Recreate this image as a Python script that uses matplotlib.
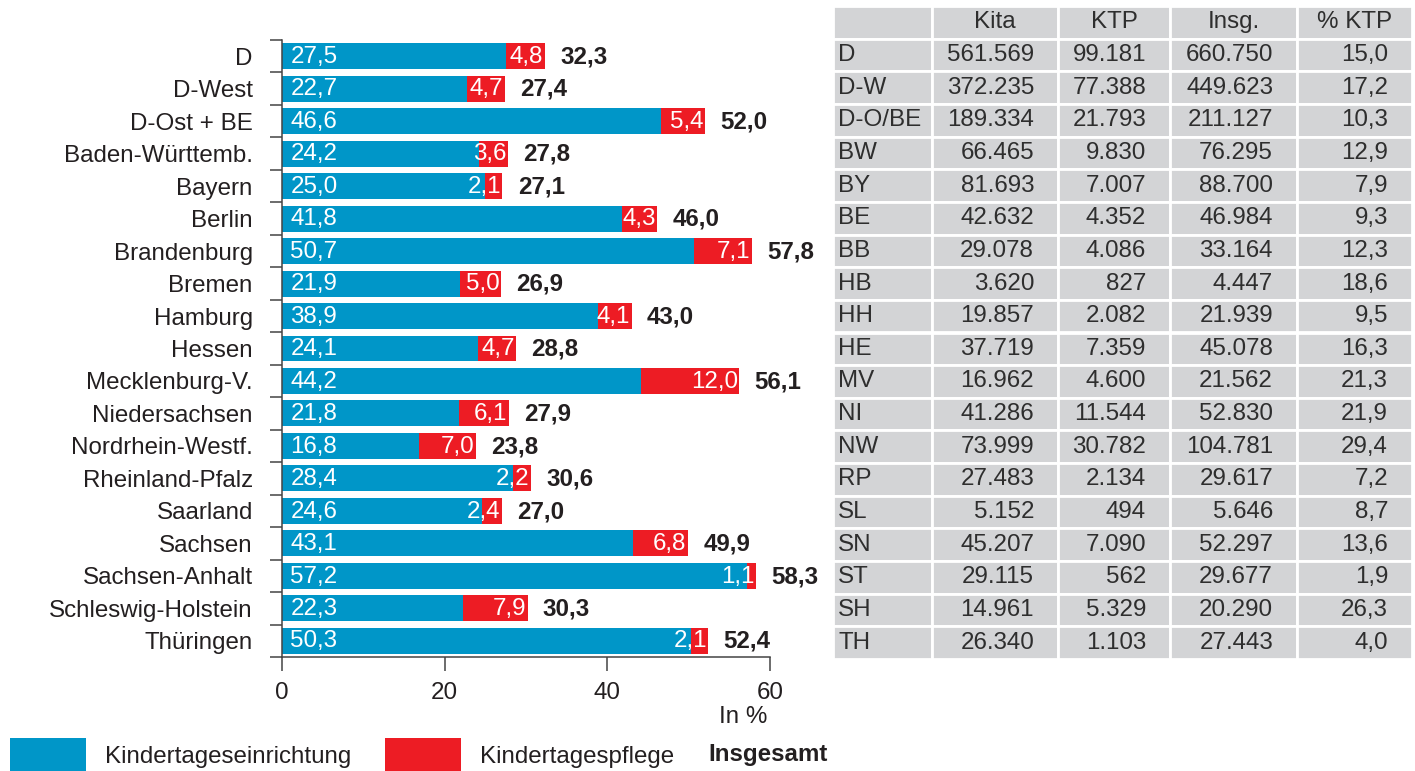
import numpy as np
import matplotlib
matplotlib.use('Agg')
import matplotlib.pyplot as plt
from matplotlib.patches import Rectangle

plt.rcParams['font.family'] = ['Liberation Sans', 'DejaVu Sans']

# Daten: Anteil der Kinder unter 3 Jahren in Kindertagesbetreuung (in %)
laender = ['D', 'D-West', 'D-Ost + BE', 'Baden-Württemb.', 'Bayern', 'Berlin',
           'Brandenburg', 'Bremen', 'Hamburg', 'Hessen', 'Mecklenburg-V.',
           'Niedersachsen', 'Nordrhein-Westf.', 'Rheinland-Pfalz', 'Saarland',
           'Sachsen', 'Sachsen-Anhalt', 'Schleswig-Holstein', 'Thüringen']
kita_pct = [27.5, 22.7, 46.6, 24.2, 25.0, 41.8, 50.7, 21.9, 38.9, 24.1, 44.2,
            21.8, 16.8, 28.4, 24.6, 43.1, 57.2, 22.3, 50.3]
ktp_pct = [4.8, 4.7, 5.4, 3.6, 2.1, 4.3, 7.1, 5.0, 4.1, 4.7, 12.0,
           6.1, 7.0, 2.2, 2.4, 6.8, 1.1, 7.9, 2.1]
insg_pct = [32.3, 27.4, 52.0, 27.8, 27.1, 46.0, 57.8, 26.9, 43.0, 28.8, 56.1,
            27.9, 23.8, 30.6, 27.0, 49.9, 58.3, 30.3, 52.4]

# Tabelle: absolute Zahlen
kuerzel = ['D', 'D-W', 'D-O/BE', 'BW', 'BY', 'BE', 'BB', 'HB', 'HH', 'HE', 'MV',
           'NI', 'NW', 'RP', 'SL', 'SN', 'ST', 'SH', 'TH']
kita_n = [561569, 372235, 189334, 66465, 81693, 42632, 29078, 3620, 19857, 37719,
          16962, 41286, 73999, 27483, 5152, 45207, 29115, 14961, 26340]
ktp_n = [99181, 77388, 21793, 9830, 7007, 4352, 4086, 827, 2082, 7359,
         4600, 11544, 30782, 2134, 494, 7090, 562, 5329, 1103]
insg_n = [660750, 449623, 211127, 76295, 88700, 46984, 33164, 4447, 21939, 45078,
          21562, 52830, 104781, 29617, 5646, 52297, 29677, 20290, 27443]
ktp_anteil = [15.0, 17.2, 10.3, 12.9, 7.9, 9.3, 12.3, 18.6, 9.5, 16.3,
              21.3, 21.9, 29.4, 7.2, 8.7, 13.6, 1.9, 26.3, 4.0]
kopf = ['', 'Kita', 'KTP', 'Insg.', '% KTP']

BLUE = '#0096c8'
RED = '#ed1c24'
TXT = '#231f20'
TAB_TXT = '#2e2e2e'
GRAU = '#d3d4d6'
FS = 17.4

W, H = 1415, 771
fig = plt.figure(figsize=(W / 100, H / 100), dpi=100)


def de_int(v):
    return f'{v:,}'.replace(',', '.')


def de_dec(v):
    return f'{v:.1f}'.replace('.', ',')


# --- Balkendiagramm ---
ax = fig.add_axes([282 / W, 1 - 657 / H, (770 - 282) / W, (657 - 40) / H])
n = len(laender)
y = np.arange(n)
ax.barh(y, kita_pct, height=0.8, color=BLUE)
ax.barh(y, ktp_pct, left=kita_pct, height=0.8, color=RED)
ax.set_xlim(0, 60)
ax.set_ylim(n - 0.5, -0.5)

for i in range(n):
    ax.annotate(de_dec(kita_pct[i]), (0, i), xytext=(6, -0.5), textcoords='offset points',
                ha='left', va='center', color='white', fontsize=FS)
    ax.annotate(de_dec(ktp_pct[i]), (kita_pct[i] + ktp_pct[i], i), xytext=(-1, -0.5),
                textcoords='offset points', ha='right', va='center', color='white', fontsize=FS)
    ax.annotate(de_dec(insg_pct[i]), (kita_pct[i] + ktp_pct[i], i), xytext=(11, -0.5),
                textcoords='offset points', ha='left', va='center', color=TXT,
                fontsize=FS, fontweight='bold')

for s in ['top', 'right']:
    ax.spines[s].set_visible(False)
for s in ['left', 'bottom']:
    ax.spines[s].set_color('#444444')
    ax.spines[s].set_linewidth(1.1)

ax.set_yticks(y)
ax.set_yticklabels(laender)
ax.set_yticks(np.arange(-0.5, n), minor=True)
ax.tick_params(axis='y', which='major', length=0, pad=21, labelsize=FS, labelcolor=TXT)
ax.tick_params(axis='y', which='minor', length=8.6, width=1.1, color='#444444')
ax.set_xticks([0, 20, 40, 60])
ax.tick_params(axis='x', length=10, width=1.1, color='#444444', pad=8,
               labelsize=FS, labelcolor=TXT)
fig.text(767 / W, 1 - 717 / H, 'In %', ha='right', va='center', fontsize=FS, color=TXT)

# --- Tabelle ---
tax = fig.add_axes([833 / W, 1 - 659 / H, (1412 - 833) / W, (659 - 6) / H])
kanten = [833, 932, 1058, 1170, 1297, 1412]
tax.set_xlim(kanten[0], kanten[-1])
tax.set_ylim(n + 1, 0)
tax.axis('off')

for r in range(n + 1):
    for c in range(5):
        tax.add_patch(Rectangle((kanten[c], r), kanten[c + 1] - kanten[c], 1,
                                facecolor=GRAU, edgecolor='white', linewidth=2))

for c in range(5):
    tax.text((kanten[c] + kanten[c + 1]) / 2, 0.5, kopf[c], ha='center', va='center',
             fontsize=FS, color=TAB_TXT)

for i in range(n):
    r = i + 1.5
    tax.text(kanten[0] + 5, r, kuerzel[i], ha='left', va='center', fontsize=FS, color=TAB_TXT)
    werte = [de_int(kita_n[i]), de_int(ktp_n[i]), de_int(insg_n[i]), de_dec(ktp_anteil[i])]
    for c, w in enumerate(werte):
        tax.text(kanten[c + 2] - 24, r, w, ha='right', va='center', fontsize=FS, color=TAB_TXT)

# --- Legende ---
fig.add_artist(Rectangle((10 / W, 0), 76 / W, 33 / H, transform=fig.transFigure,
                         facecolor=BLUE, edgecolor='none'))
fig.add_artist(Rectangle((385 / W, 0), 76 / W, 33 / H, transform=fig.transFigure,
                         facecolor=RED, edgecolor='none'))
fig.text(105 / W, 1 - 757 / H, 'Kindertageseinrichtung', ha='left', va='center',
         fontsize=FS, color=TXT)
fig.text(480 / W, 1 - 757 / H, 'Kindertagespflege', ha='left', va='center',
         fontsize=FS, color=TXT)
fig.text(708 / W, 1 - 755 / H, 'Insgesamt', ha='left', va='center',
         fontsize=FS, color=TXT, fontweight='bold')

fig.savefig('out.png', dpi=100)
